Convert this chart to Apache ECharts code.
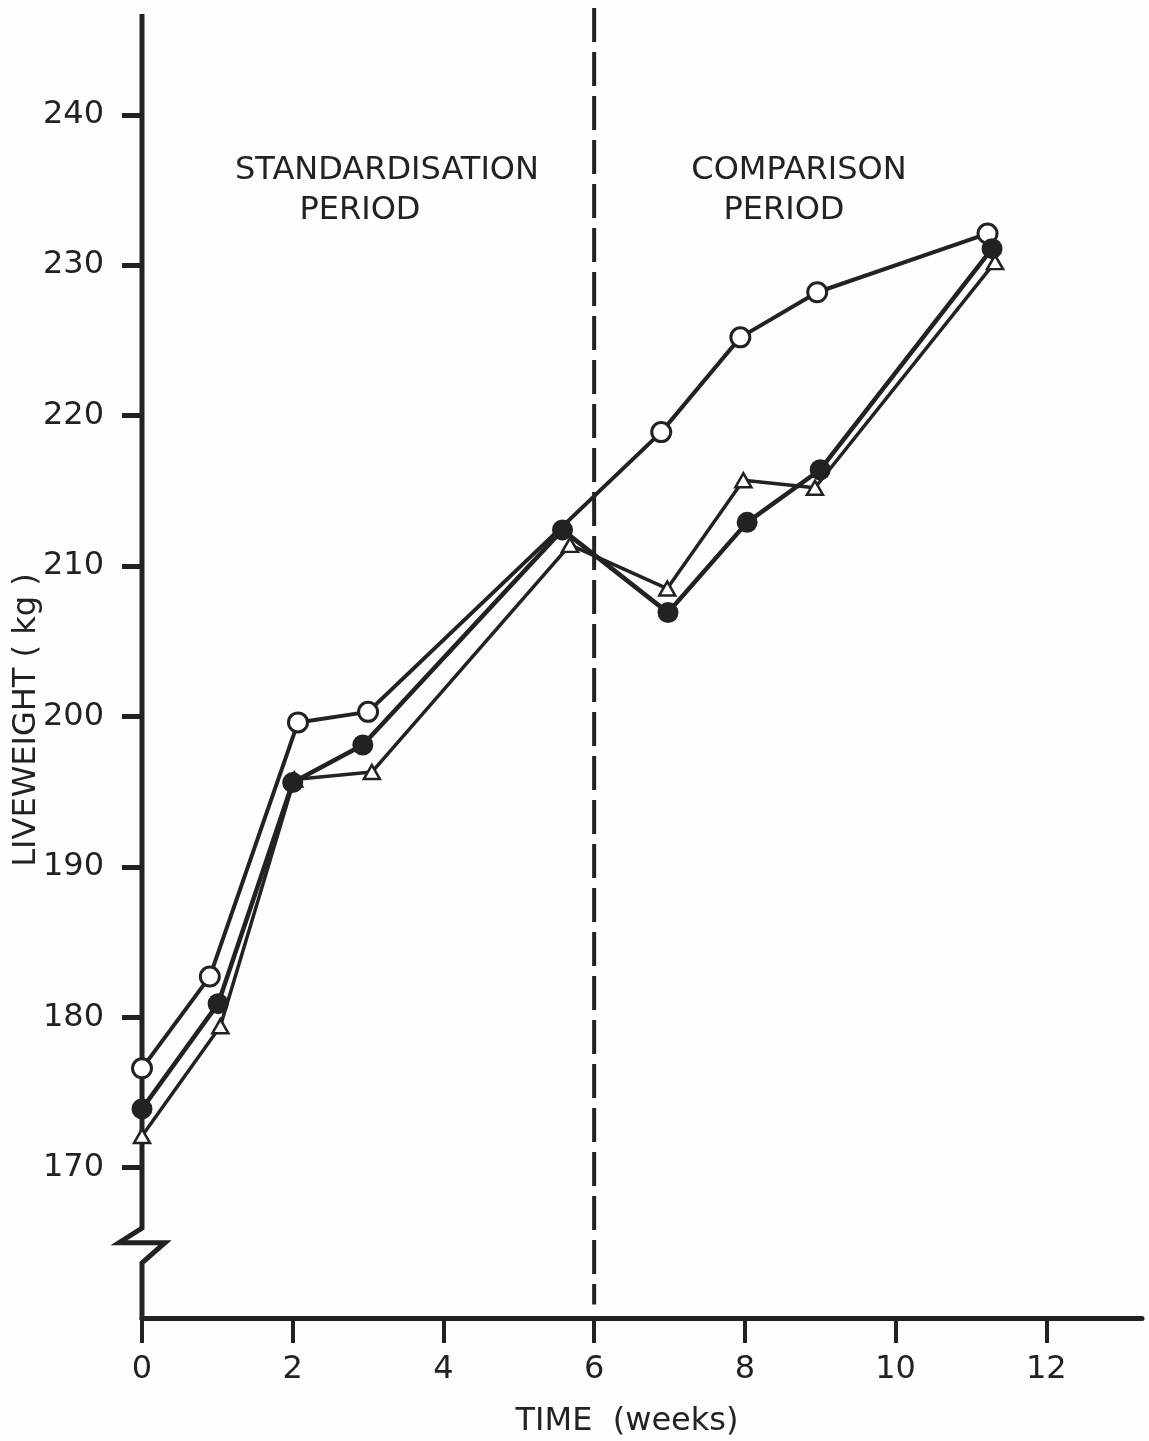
<!DOCTYPE html>
<html>
<head>
<meta charset="utf-8">
<script src="https://cdn.jsdelivr.net/npm/echarts@6/dist/echarts.min.js"></script>
<style>
html,body{margin:0;padding:0;background:#fdfdfd;}
#chart{width:1149px;height:1441px;}
</style>
</head>
<body>
<div id="chart"></div>
<script>
// ---- data ----
const openWeeks   = [0, 0.90, 2.07, 3.00, 6.89, 7.94, 8.96, 11.22];
const openValues  = [176.6, 182.7, 199.6, 200.3, 218.9, 225.2, 228.2, 232.1];

const filledWeeks  = [0, 1.01, 2.00, 2.93, 5.58, 6.98, 8.03, 9.00, 11.28];
const filledValues = [173.9, 180.9, 195.6, 198.1, 212.4, 206.9, 212.9, 216.4, 231.1];

const triWeeks  = [0, 1.04, 2.02, 3.05, 5.68, 6.97, 7.98, 8.93, 11.32];
const triValues = [172.1, 179.4, 195.8, 196.3, 211.4, 208.5, 215.7, 215.2, 230.2];

const xTicks = [0, 2, 4, 6, 8, 10, 12];
const yTicks = [170, 180, 190, 200, 210, 220, 230, 240];
const periodBoundary = 6;
const axisBreak = [163.66, 165.98];   // y range of the axis break symbol
const xRange = [0, 13.27];
const yRange = [160, 246.7];

const INK = '#222222';
const FONT = '"DejaVu Sans", sans-serif';
const FS = 32;

function pairs(xs, ys){ return xs.map((x,i)=>[x, ys[i]]); }

const chart = echarts.init(document.getElementById('chart'));
chart.setOption({
  backgroundColor: '#fdfdfd',
  animation: false,
  grid: {left: 142, right: 7, top: 14, bottom: 123, containLabel: false, outerBoundsMode: 'none'},
  xAxis: {
    type: 'value', min: xRange[0], max: xRange[1], interval: 2,
    splitLine: {show: false},
    axisLine: {show: true, lineStyle: {color: INK, width: 5}},
    axisTick: {show: true, length: 25, lineStyle: {color: INK, width: 4}, customValues: xTicks},
    axisLabel: {color: INK, fontFamily: FONT, fontSize: FS, margin: 36, customValues: xTicks},
    name: 'TIME  (weeks)', nameLocation: 'middle', nameGap: 88, nameMoveOverlap: false,
    nameTextStyle: {color: INK, fontFamily: FONT, fontSize: FS, padding: [0, 30, 0, 0]}
  },
  yAxis: {
    type: 'value', min: yRange[0], max: yRange[1], interval: 10,
    splitLine: {show: false},
    axisLine: {show: false},
    axisTick: {show: true, length: 20, lineStyle: {color: INK, width: 5}, customValues: yTicks},
    axisLabel: {color: INK, fontFamily: FONT, fontSize: FS, margin: 38, customValues: yTicks},
    name: 'LIVEWEIGHT ( kg )', nameLocation: 'middle', nameGap: 99, nameMoveOverlap: false,
    nameTextStyle: {color: INK, fontFamily: FONT, fontSize: FS, padding: [0, 108, 0, 0]}
  },
  graphic: [
    {type: 'text', x: 387, y: 171, style: {text: 'STANDARDISATION', font: FS + 'px ' + FONT, fill: INK, textAlign: 'center', textVerticalAlign: 'middle'}},
    {type: 'text', x: 360, y: 211, style: {text: 'PERIOD', font: FS + 'px ' + FONT, fill: INK, textAlign: 'center', textVerticalAlign: 'middle'}},
    {type: 'text', x: 799, y: 171, style: {text: 'COMPARISON', font: FS + 'px ' + FONT, fill: INK, textAlign: 'center', textVerticalAlign: 'middle'}},
    {type: 'text', x: 784, y: 211, style: {text: 'PERIOD', font: FS + 'px ' + FONT, fill: INK, textAlign: 'center', textVerticalAlign: 'middle'}}
  ],
  series: [
    {
      // y axis line with break symbol
      type: 'custom', silent: true, clip: false, z: 1,
      data: [[0, 0]],
      renderItem: function(params, api){
        const top = api.coord([0, yRange[1]]);
        const b1 = api.coord([0, axisBreak[1]]);
        const b2 = api.coord([0, axisBreak[0]]);
        const bot = api.coord([0, yRange[0]]);
        const mid = b1[1] + (b2[1] - b1[1]) * 0.42;
        return {
          type: 'polyline',
          shape: {points: [top, b1, [b1[0] - 23, mid], [b1[0] + 23, mid], b2, [bot[0], bot[1] + 2]]},
          style: {stroke: INK, lineWidth: 5, fill: null, lineJoin: 'miter'}
        };
      }
    },
    {
      // dashed boundary between the two periods
      type: 'custom', silent: true, clip: false, z: 2,
      data: [[periodBoundary, 0]],
      renderItem: function(params, api){
        const a = api.coord([api.value(0), yRange[1]]);
        const b = api.coord([api.value(0), 160.9]);
        return {
          type: 'line',
          shape: {x1: a[0], y1: a[1] - 6, x2: b[0], y2: b[1]},
          style: {stroke: INK, lineWidth: 4, lineDash: [34, 10]}
        };
      }
    },
    {
      name: 'open', type: 'line', data: pairs(openWeeks, openValues), z: 3,
      symbol: 'circle', symbolSize: 19, showAllSymbol: true, clip: false,
      lineStyle: {color: INK, width: 4},
      itemStyle: {color: '#ffffff', borderColor: INK, borderWidth: 3}
    },
    {
      name: 'filled', type: 'line', data: pairs(filledWeeks, filledValues), z: 4,
      symbol: 'circle', symbolSize: 21, showAllSymbol: true, clip: false,
      lineStyle: {color: INK, width: 4.5},
      itemStyle: {color: INK, borderColor: INK, borderWidth: 0}
    },
    {
      name: 'triangle', type: 'line', data: pairs(triWeeks, triValues), z: 3,
      symbol: 'triangle', symbolSize: [16, 14], showAllSymbol: true, clip: false,
      lineStyle: {color: INK, width: 3.5},
      itemStyle: {color: '#ffffff', borderColor: INK, borderWidth: 2.5}
    }
  ]
});
</script>
</body>
</html>
